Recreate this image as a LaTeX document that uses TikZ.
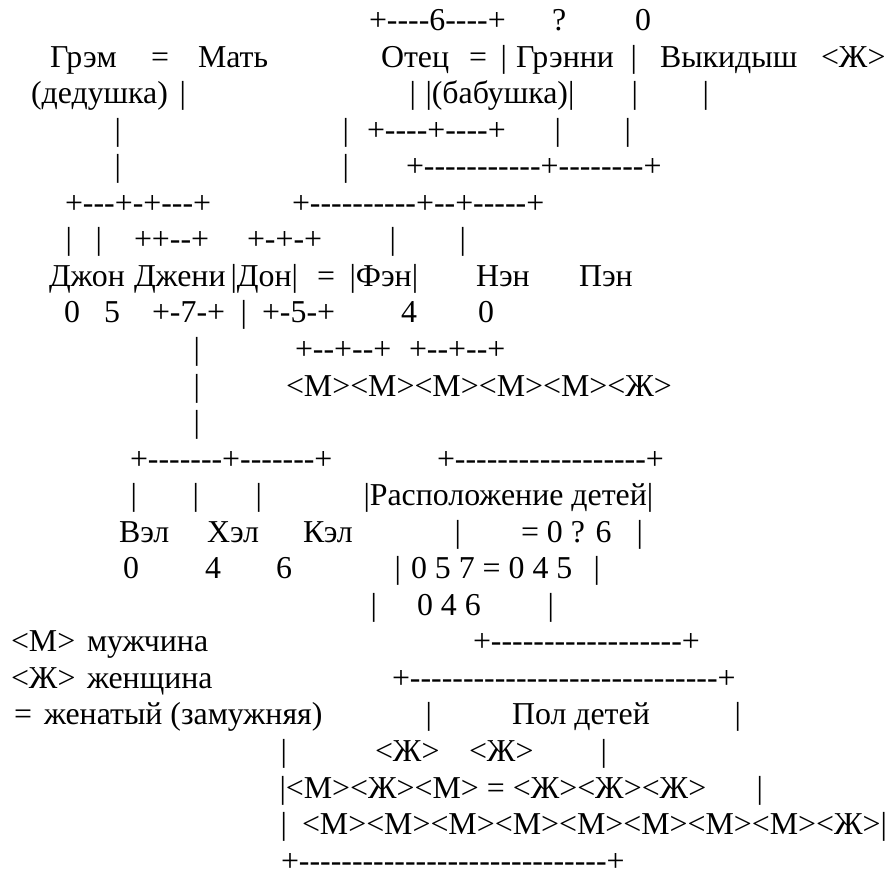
\documentclass[tikz,border=0pt]{standalone}
\usepackage{fontspec}
\newfontfamily\af{Liberation Serif}
\newcounter{tk}
\tikzset{tok/.style={anchor=base west, inner sep=0pt, outer sep=0pt, font=\af\fontsize{31.86}{36}\selectfont, text=black}}
% \T{x}{line}{text}
\newcommand\T[3]{\stepcounter{tk}\node[tok] (t\thetk) at ({#1-1}, {30.5+36.55*(#2-1)}) {#3};}
\newcommand\B[2]{\T{#1-1.5}{#2}{|}}
\begin{document}
\begin{tikzpicture}[x=1pt,y=-1pt]
\useasboundingbox[fill=white] (0,0) rectangle (896,879);
% line 1
\T{370}{1}{+----6----+}
\T{553}{1}{?}
\T{636}{1}{0}
% line 2
\T{51}{2}{Грэм}
\T{152}{2}{=}
\T{199}{2}{Мать}
\T{382}{2}{Отец}
\T{470}{2}{=}
\B{503}{2}
\T{517}{2}{Грэнни}
\B{633}{2}
\T{661}{2}{Выкидыш}
\T{822}{2}{<Ж>}
% line 3
\T{32}{3}{(дедушка)}
\B{182}{3}
\B{412}{3}
\T{426.5}{3}{|(бабушка)|}
\B{634}{3}
\B{705}{3}
% line 4
\B{117}{4}
\B{345}{4}
\T{368}{4}{+----+----+}
\B{557}{4}
\B{627}{4}
% line 5
\B{117}{5}
\B{345}{5}
\T{407}{5}{+-----------+--------+}
% line 6
\T{66}{6}{+---+-+---+}
\T{293}{6}{+----------+--+-----+}
% line 7
\B{68}{7}
\B{98}{7}
\T{135}{7}{++--+}
\T{248}{7}{+-+-+}
\B{392}{7}
\B{462}{7}
% line 8
\T{50}{8}{Джон}
\T{135}{8}{Джени}
\T{231.5}{8}{|Дон|}
\T{318}{8}{=}
\T{350.5}{8}{|Фэн|}
\T{477}{8}{Нэн}
\T{580}{8}{Пэн}
% line 9
\T{65}{9}{0}
\T{105}{9}{5}
\T{153}{9}{+-7-+}
\B{243}{9}
\T{263}{9}{+-5-+}
\T{402}{9}{4}
\T{479}{9}{0}
% line 10
\B{196}{10}
\T{296}{10}{+--+--+}
\T{410}{10}{+--+--+}
% line 11
\B{196}{11}
\T{287}{11}{<М><М><М><М><М><Ж>}
% line 12
\B{196}{12}
% line 13
\T{131}{13}{+-------+-------+}
\T{438}{13}{+------------------+}
% line 14
\B{133}{14}
\B{195}{14}
\B{258}{14}
\T{364.5}{14}{|Расположение детей|}
% line 15
\T{120}{15}{Вэл}
\T{208}{15}{Хэл}
\T{304}{15}{Кэл}
\B{457}{15}
\T{522}{15}{= 0 ? 6}
\B{639}{15}
% line 16
\T{124}{16}{0}
\T{206}{16}{4}
\T{277}{16}{6}
\B{397}{16}
\T{412}{16}{0 5 7 = 0 4 5}
\B{596}{16}
% line 17
\B{373}{17}
\T{418}{17}{0 4 6}
\B{550}{17}
% line 18
\T{12}{18}{<М>}
\T{88}{18}{мужчина}
\T{474}{18}{+------------------+}
% line 19
\T{12}{19}{<Ж>}
\T{88}{19}{женщина}
\T{393}{19}{+-----------------------------+}
% line 20
\T{15}{20}{=}
\T{45}{20}{женатый (замужняя)}
\B{428}{20}
\T{513}{20}{Пол детей}
\B{737}{20}
% line 21
\B{283}{21}
\T{376}{21}{<Ж>}
\T{470}{21}{<Ж>}
\B{603}{21}
% line 22
\T{280.5}{22}{|<М><Ж><М> = <Ж><Ж><Ж>}
\B{759}{22}
% line 23
\B{283}{23}
\T{303}{23}{<М><М><М><М><М><М><М><М><Ж>|}
% line 24
\T{282}{24}{+-----------------------------+}
\end{tikzpicture}
\end{document}
